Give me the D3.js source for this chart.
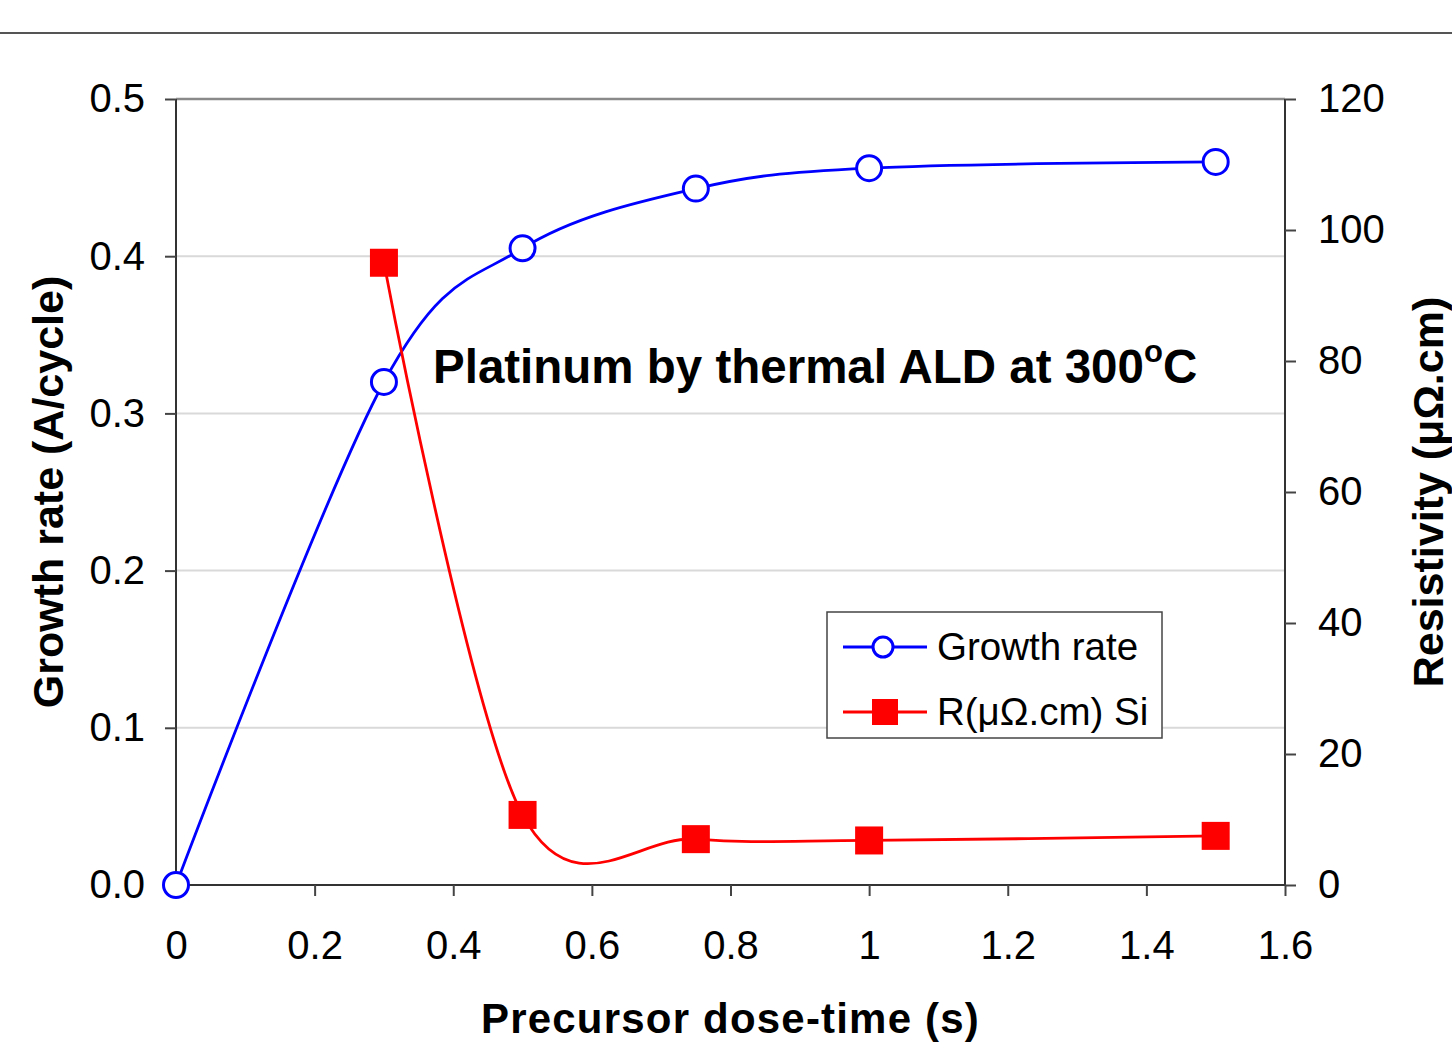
<!DOCTYPE html>
<html><head><meta charset="utf-8">
<script src="https://cdn.jsdelivr.net/npm/d3@7"></script>
<style>body{margin:0;background:#fff;} text{font-family:"Liberation Sans",Arial,sans-serif;}</style>
</head><body>
<svg id="c" width="1452" height="1046"></svg>
<script>
const doseTime = [0, 0.3, 0.5, 0.75, 1, 1.5];
const growthRate = [0, 0.32, 0.405, 0.443, 0.456, 0.46];
const resDose = [0.3, 0.5, 0.75, 1, 1.5];
const resistivity = [95, 10.7, 7, 6.8, 7.5];
const xTicks = [0, 0.2, 0.4, 0.6, 0.8, 1, 1.2, 1.4, 1.6];
const yLeftTicks = [0, 0.1, 0.2, 0.3, 0.4, 0.5];
const yRightTicks = [0, 20, 40, 60, 80, 100, 120];

const svg = d3.select("#c");
const L = 176, R = 1285, T = 99, B = 885;
const x = d3.scaleLinear().domain([0, 1.6]).range([L, R]);
const yL = d3.scaleLinear().domain([0, 0.5]).range([B, T]);
const yR = d3.scaleLinear().domain([0, 120]).range([B, T]);

// top page rule
svg.append("line").attr("x1",0).attr("x2",1452).attr("y1",33).attr("y2",33)
  .attr("stroke","#555").attr("stroke-width",2);

// gridlines
svg.append("g").selectAll("line").data(yLeftTicks.filter(d=>d>0 && d<0.5)).join("line")
  .attr("x1",L).attr("x2",R).attr("y1",d=>yL(d)).attr("y2",d=>yL(d))
  .attr("stroke","#d9d9d9").attr("stroke-width",2);
svg.append("line").attr("x1",L).attr("x2",R).attr("y1",T).attr("y2",T)
  .attr("stroke","#8a8a8a").attr("stroke-width",2.5);

// axes
const fs = 40;
const gx = svg.append("g").attr("transform",`translate(0,${B})`)
  .call(d3.axisBottom(x).tickValues(xTicks).tickFormat(d3.format("~g")).tickSize(11).tickPadding(35));
const gl = svg.append("g").attr("transform",`translate(${L},0)`)
  .call(d3.axisLeft(yL).tickValues(yLeftTicks).tickFormat(d3.format(".1f")).tickSize(11).tickPadding(20));
const gr = svg.append("g").attr("transform",`translate(${R},0)`)
  .call(d3.axisRight(yR).tickValues(yRightTicks).tickFormat(d3.format("d")).tickSize(11).tickPadding(22));
[gx,gl,gr].forEach(g=>{
  g.select(".domain").attr("stroke","#333").attr("stroke-width",2);
  g.selectAll(".tick line").attr("stroke","#444").attr("stroke-width",2);
  g.selectAll(".tick text").attr("font-size",fs).attr("fill","#000")
    .style("font-family","'Liberation Sans',Arial,sans-serif");
});
gx.select(".domain").attr("d",`M${L},0H${R}`);
gl.select(".domain").attr("d",`M0,${B}V${T}`);
gr.select(".domain").attr("d",`M0,${B}V${T}`);

// lines
const blueData = doseTime.map((d,i)=>[d,growthRate[i]]);
const redData = resDose.map((d,i)=>[d,resistivity[i]]);
svg.append("path").datum(blueData)
  .attr("d", d3.line().x(d=>x(d[0])).y(d=>yL(d[1])).curve(d3.curveCardinal.tension(0)))
  .attr("fill","none").attr("stroke","#0000ff").attr("stroke-width",2.8);
svg.append("path").datum(redData)
  .attr("d", d3.line().x(d=>x(d[0])).y(d=>yR(d[1])).curve(d3.curveCardinal.tension(0)))
  .attr("fill","none").attr("stroke","#ff0000").attr("stroke-width",2.8);

// markers
svg.append("g").selectAll("rect").data(redData).join("rect")
  .attr("x",d=>x(d[0])-14).attr("y",d=>yR(d[1])-14).attr("width",28).attr("height",28)
  .attr("fill","#ff0000");
svg.append("g").selectAll("circle").data(blueData).join("circle")
  .attr("cx",d=>x(d[0])).attr("cy",d=>yL(d[1])).attr("r",12.5)
  .attr("fill","#fff").attr("stroke","#0000ff").attr("stroke-width",3);

// title inside plot
const t = svg.append("text").attr("x",433).attr("y",383).attr("font-size",47.5).attr("font-weight","bold")
  .text("Platinum by thermal ALD at 300");
t.append("tspan").attr("font-size",31).attr("dy",-21).text("o");
t.append("tspan").attr("dy",21).text("C");

// axis titles
svg.append("text").attr("x",(L+R)/2).attr("y",1033).attr("text-anchor","middle")
  .attr("font-size",42).attr("font-weight","bold").attr("letter-spacing",1.2).text("Precursor dose-time (s)");
svg.append("text").attr("transform",`translate(63,${(T+B)/2}) rotate(-90)`).attr("text-anchor","middle")
  .attr("font-size",43).attr("font-weight","bold").text("Growth rate (A/cycle)");
svg.append("text").attr("transform",`translate(1443,${(T+B)/2}) rotate(-90)`).attr("text-anchor","middle")
  .attr("font-size",43).attr("font-weight","bold").text("Resistivity (μΩ.cm)");

// legend
const lg = svg.append("g");
lg.append("rect").attr("x",827).attr("y",612).attr("width",335).attr("height",126)
  .attr("fill","#fff").attr("stroke","#444").attr("stroke-width",1.5);
const legendItems = [
  {label:"Growth rate", color:"#0000ff", type:"circle", y:647},
  {label:"R(μΩ.cm) Si", color:"#ff0000", type:"square", y:712}
];
legendItems.forEach(it=>{
  lg.append("line").attr("x1",843).attr("x2",927).attr("y1",it.y).attr("y2",it.y)
    .attr("stroke",it.color).attr("stroke-width",2.8);
  if(it.type==="circle"){
    lg.append("circle").attr("cx",883).attr("cy",it.y).attr("r",10)
      .attr("fill","#fff").attr("stroke",it.color).attr("stroke-width",3);
  } else {
    lg.append("rect").attr("x",872).attr("y",it.y-13).attr("width",26).attr("height",26).attr("fill",it.color);
  }
  lg.append("text").attr("x",937).attr("y",it.y+13).attr("font-size",38.5).text(it.label);
});
</script>
</body></html>
